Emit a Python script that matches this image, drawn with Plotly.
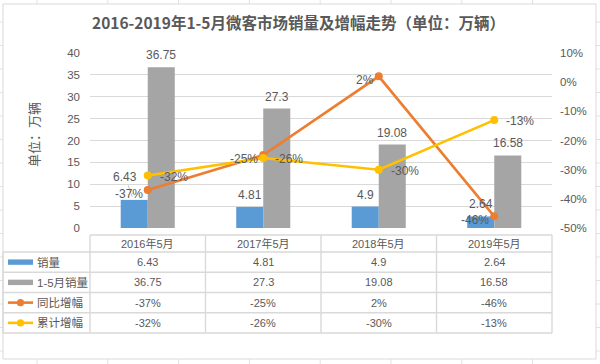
import plotly.graph_objects as go

# ---------------- data ----------------
categories = ["2016年5月", "2017年5月", "2018年5月", "2019年5月"]
sales = [6.43, 4.81, 4.9, 2.64]
sales_ytd = [36.75, 27.3, 19.08, 16.58]
yoy_growth = [-37, -25, 2, -46]      # 同比增幅 (%)
ytd_growth = [-32, -26, -30, -13]    # 累计增幅 (%)
series_names = ["销量", "1-5月销量", "同比增幅", "累计增幅"]
left_ticks = [0, 5, 10, 15, 20, 25, 30, 35, 40]
right_ticks = [10, 0, -10, -20, -30, -40, -50]
right_tick_labels = ["10%", "0%", "-10%", "-20%", "-30%", "-40%", "-50%"]
title_text = "2016-2019年1-5月微客市场销量及增幅走势（单位：万辆）"
ytitle_text = "单位：万辆"

# ---------------- style ----------------
W, H = 600, 364
BLUE, GREY, ORANGE, YELLOW = "#5B9BD5", "#A5A5A5", "#ED7D31", "#FFC000"
TXT = "#595959"
LINEC = "#D9D9D9"
FONT = "Liberation Sans, Noto Sans CJK SC, sans-serif"
CJK = "Noto Sans CJK SC, sans-serif"

PL, PR, PT, PB = 90, 552, 53, 228   # plot area in pixels


def px(x):
    return x / W


def py(y):
    return 1 - y / H


def pann(x, y, text, size=11, family=FONT, xanchor="center", **kw):
    d = dict(xref="paper", yref="paper", x=px(x), y=py(y), text=text, showarrow=False,
             xanchor=xanchor, yanchor="middle", font=dict(size=size, color=TXT, family=family))
    d.update(kw)
    return d


fig = go.Figure()

fig.add_trace(go.Bar(x=categories, y=sales, name=series_names[0],
                     marker=dict(color=BLUE, line=dict(width=0))))
fig.add_trace(go.Bar(x=categories, y=sales_ytd, name=series_names[1],
                     marker=dict(color=GREY, line=dict(width=0))))
fig.add_trace(go.Scatter(x=categories, y=yoy_growth, name=series_names[2], yaxis="y2",
                         mode="lines+markers", line=dict(color=ORANGE, width=2.6),
                         marker=dict(color=ORANGE, size=8), cliponaxis=False))
fig.add_trace(go.Scatter(x=categories, y=ytd_growth, name=series_names[3], yaxis="y2",
                         mode="lines+markers", line=dict(color=YELLOW, width=2.6),
                         marker=dict(color=YELLOW, size=8), cliponaxis=False))

ann = []
shapes = []

# ---- spreadsheet background grid ----
for i in range(9):
    x = 37 + 70.8 * i
    shapes.append(dict(type="line", xref="paper", yref="paper", x0=px(x), x1=px(x), y0=0, y1=1,
                       line=dict(color="#E2E2E2", width=1), layer="below"))
for i in range(16):
    y = 22 + 23.5 * i
    shapes.append(dict(type="line", xref="paper", yref="paper", x0=0, x1=1, y0=py(y), y1=py(y),
                       line=dict(color="#E2E2E2", width=1), layer="below"))
# chart area
shapes.append(dict(type="rect", xref="paper", yref="paper", x0=px(3), x1=px(596), y0=py(359), y1=py(4),
                   fillcolor="white", line=dict(color=LINEC, width=1), layer="below"))

# ---- data table ----
band = (PR - PL) / len(categories)
col_edges = [PL + band * i for i in range(len(categories) + 1)]
row_edges = [235, 252, 272.25, 292.5, 312.75, 333]
tl = dict(color=LINEC, width=1.4)
shapes.append(dict(type="line", xref="paper", yref="paper", x0=px(PL), x1=px(PR),
                   y0=py(row_edges[0]), y1=py(row_edges[0]), line=tl))
for y in row_edges[1:]:
    shapes.append(dict(type="line", xref="paper", yref="paper", x0=px(3), x1=px(PR),
                       y0=py(y), y1=py(y), line=tl))
shapes.append(dict(type="line", xref="paper", yref="paper", x0=px(3), x1=px(3),
                   y0=py(row_edges[1]), y1=py(row_edges[-1]), line=tl))
for x in col_edges:
    shapes.append(dict(type="line", xref="paper", yref="paper", x0=px(x), x1=px(x),
                       y0=py(row_edges[0]), y1=py(row_edges[-1]), line=tl))

row_c = [(row_edges[i] + row_edges[i + 1]) / 2 for i in range(len(row_edges) - 1)]
col_c = [(col_edges[i] + col_edges[i + 1]) / 2 for i in range(len(categories))]

for j, c in enumerate(categories):
    ann.append(pann(col_c[j], row_c[0], c))

rows = [
    [f"{v:g}" for v in sales],
    [f"{v:g}" for v in sales_ytd],
    [f"{v}%" for v in yoy_growth],
    [f"{v}%" for v in ytd_growth],
]
for r, vals in enumerate(rows):
    yc = row_c[r + 1]
    for j, t in enumerate(vals):
        ann.append(pann(col_c[j], yc, t))
    ann.append(pann(35, yc, series_names[r], size=11.5, xanchor="left"))

# legend keys
for r, col in enumerate([BLUE, GREY]):
    yc = row_c[r + 1]
    shapes.append(dict(type="rect", xref="paper", yref="paper", x0=px(8), x1=px(33),
                       y0=py(yc + 2.7), y1=py(yc - 2.7), fillcolor=col, line=dict(width=0)))
for r, col in enumerate([ORANGE, YELLOW]):
    yc = row_c[r + 3]
    shapes.append(dict(type="line", xref="paper", yref="paper", x0=px(8), x1=px(33),
                       y0=py(yc), y1=py(yc), line=dict(color=col, width=2.6)))
    shapes.append(dict(type="circle", xref="paper", yref="paper", x0=px(20.5 - 3.6), x1=px(20.5 + 3.6),
                       y0=py(yc + 3.6), y1=py(yc - 3.6), fillcolor=col, line=dict(width=0)))

# ---- data labels ----
half = band * (1 - 0.532) / 4
lab_font = dict(size=12, color=TXT, family=FONT)
for j, c in enumerate(categories):
    if j == 0:
        ann.append(dict(x=c, y=sales[j], xref="x", yref="y", text=f"{sales[j]:g}",
                        showarrow=True, arrowhead=0, arrowwidth=0.7, arrowcolor="#A6A6A6",
                        ax=-7, ay=-20, xshift=-half - 2, yshift=3, standoff=0,
                        font=lab_font))
    else:
        ann.append(dict(x=c, y=sales[j], xref="x", yref="y", text=f"{sales[j]:g}",
                        showarrow=False, xshift=-half, yshift=12, font=lab_font))
    ann.append(dict(x=c, y=sales_ytd[j], xref="x", yref="y", text=f"{sales_ytd[j]:g}",
                    showarrow=False, xshift=half, yshift=12, font=lab_font))
    ann.append(dict(x=c, y=yoy_growth[j], xref="x", yref="y2", text=f"{yoy_growth[j]}%",
                    showarrow=False, xanchor="right", xshift=-3, yshift=-4, font=lab_font))
    ann.append(dict(x=c, y=ytd_growth[j], xref="x", yref="y2", text=f"{ytd_growth[j]}%",
                    showarrow=False, xanchor="left", xshift=10, yshift=-1, font=lab_font))

# title and y-axis title
ann.append(pann(298, 22, f"<b>{title_text}</b>", size=15.5, family=CJK))
ann.append(pann(33, 135, ytitle_text, size=13, family=CJK, textangle=-90))

fig.update_layout(
    width=W, height=H,
    margin=dict(l=0, r=0, t=0, b=0, autoexpand=False),
    paper_bgcolor="white", plot_bgcolor="rgba(0,0,0,0)",
    showlegend=False,
    barmode="group", bargap=0.532, bargroupgap=0,
    xaxis=dict(domain=[px(PL), px(PR)], showticklabels=False, showgrid=False, zeroline=False,
               showline=False, ticks=""),
    yaxis=dict(domain=[py(PB), py(PT)], range=[0, 40], tickvals=left_ticks, showgrid=True,
               gridcolor=LINEC, gridwidth=1, zeroline=False, showline=False, ticks="",
               tickfont=dict(size=11.5, color=TXT, family=FONT), ticklabelstandoff=9),
    yaxis2=dict(overlaying="y", side="right", range=[-50, 10], tickmode="array",
                tickvals=right_ticks, ticktext=right_tick_labels,
                showgrid=False, zeroline=False, showline=False, ticks="",
                tickfont=dict(size=11.5, color=TXT, family=FONT), ticklabelstandoff=7),
    annotations=ann,
    shapes=shapes,
)

fig.write_html("out.html", config={"displayModeBar": False},
               post_script="document.body.style.margin='0';document.body.style.overflow='hidden';")
